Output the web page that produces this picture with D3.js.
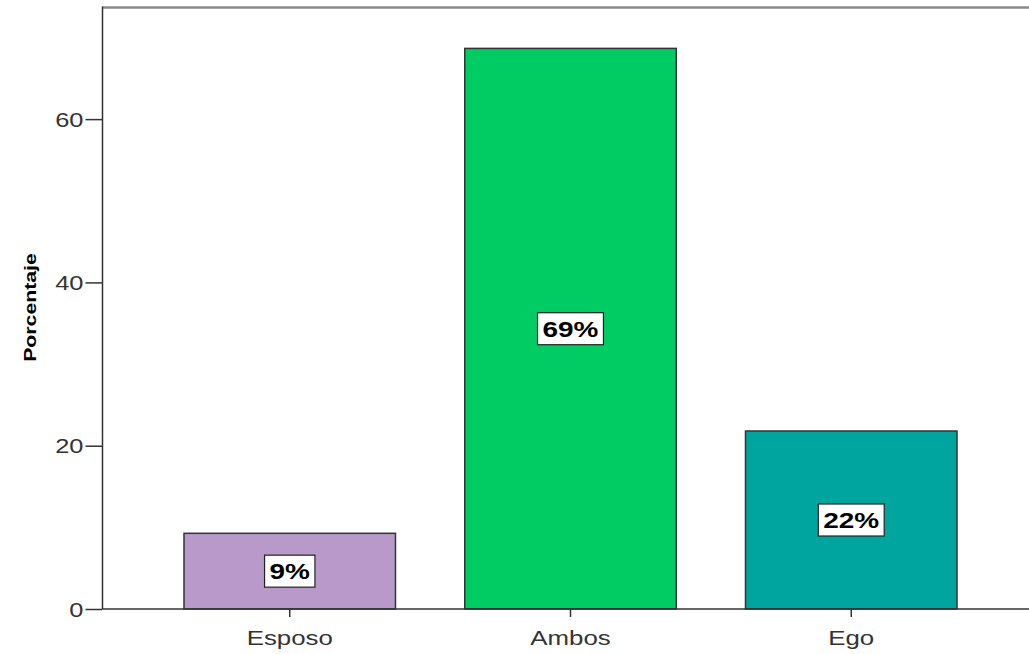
<!DOCTYPE html>
<html><head><meta charset="utf-8">
<script src="https://cdn.jsdelivr.net/npm/d3@7"></script>
<style>body{margin:0;background:#fff}svg{display:block}</style>
</head><body>
<script>
const categories = ["Esposo", "Ambos", "Ego"];
const values = [9.27, 68.66, 21.8];
const valueLabels = ["9%", "69%", "22%"];
const colors = ["#b899c9", "#00cc63", "#00a5a0"];
const yTicks = [0, 20, 40, 60];
const yTitle = "Porcentaje";

(function() {
const W = 1029, H = 654;
const svg = d3.select("body").append("svg").attr("width", W).attr("height", H);
const pLeft = 102.5, pRight = 1038.5, pTop = 7.5, pBottom = 609;

const x = d3.scaleBand().domain(categories).range([pLeft, pRight])
  .paddingInner(0.2467).paddingOuter(0.2903);
const y = d3.scaleLinear().domain([0, 73.67]).range([pBottom, pTop]);

// frame top
svg.append("line").attr("x1", pLeft).attr("x2", W).attr("y1", pTop).attr("y2", pTop)
  .attr("stroke", "#8a8a8a").attr("stroke-width", 2.5);

// bars
svg.selectAll("rect.bar").data(categories).enter().append("rect")
  .attr("class", "bar")
  .attr("x", d => x(d)).attr("width", x.bandwidth())
  .attr("y", (d, i) => y(values[i])).attr("height", (d, i) => y(0) - y(values[i]))
  .attr("fill", (d, i) => colors[i]).attr("stroke", "#333").attr("stroke-width", 1.5);

// axes
const yAxis = svg.append("g").attr("transform", `translate(${pLeft},0)`)
  .call(d3.axisLeft(y).tickValues(yTicks).tickSize(17).tickPadding(3).tickFormat(d3.format("d")));
yAxis.select(".domain").remove();
yAxis.selectAll(".tick line").attr("stroke", "#333").attr("stroke-width", 1.5);
yAxis.selectAll(".tick text").attr("fill", "#333")
  .style("font-family", "Liberation Sans, Arial, sans-serif").style("font-size", "20px")
  .attr("dy", "0.36em").attr("x", 0)
  .attr("transform", "translate(-19,0) scale(1.27,1)");

const xAxis = svg.append("g").attr("transform", `translate(0,${pBottom})`)
  .call(d3.axisBottom(x).tickSize(8).tickPadding(10));
xAxis.select(".domain").remove();
xAxis.selectAll(".tick line").attr("stroke", "#333").attr("stroke-width", 1.5);
xAxis.selectAll(".tick text").attr("fill", "#333")
  .style("font-family", "Liberation Sans, Arial, sans-serif").style("font-size", "20px")
  .attr("y", 0).attr("dy", 0)
  .attr("transform", "translate(0,36) scale(1.29,1)");

// axis lines
svg.append("line").attr("x1", pLeft).attr("x2", pLeft).attr("y1", pTop - 1).attr("y2", pBottom)
  .attr("stroke", "#333").attr("stroke-width", 1.5);
svg.append("line").attr("x1", pLeft).attr("x2", W).attr("y1", pBottom).attr("y2", pBottom)
  .attr("stroke", "#333").attr("stroke-width", 1.5);

// y title
svg.append("text").text(yTitle)
  .attr("transform", `translate(35.5,${(253 + 362) / 2}) rotate(-90) scale(1.25,1)`)
  .attr("text-anchor", "middle")
  .style("font-family", "Liberation Sans, Arial, sans-serif").style("font-size", "17px")
  .style("font-weight", "bold").attr("fill", "#000");

// value labels
const lab = svg.selectAll("g.lab").data(categories).enter().append("g").attr("class", "lab")
  .attr("transform", (d, i) => `translate(${x(d) + x.bandwidth() / 2},${(y(values[i]) + y(0)) / 2})`);
lab.each(function(d, i) {
  const g = d3.select(this);
  const rect = g.append("rect").attr("fill", "#fff").attr("stroke", "#222").attr("stroke-width", 1.2);
  const t = g.append("text").text(valueLabels[i])
    .attr("text-anchor", "middle").attr("dy", "0.36em")
    .attr("transform", "scale(1.27,1)")
    .style("font-family", "Liberation Sans, Arial, sans-serif").style("font-size", "22px")
    .style("font-weight", "bold").attr("fill", "#000");
  const w = t.node().getComputedTextLength() * 1.27 + 10;
  rect.attr("x", -w / 2).attr("y", -16).attr("width", w).attr("height", 32);
});
})();
</script>
</body></html>
